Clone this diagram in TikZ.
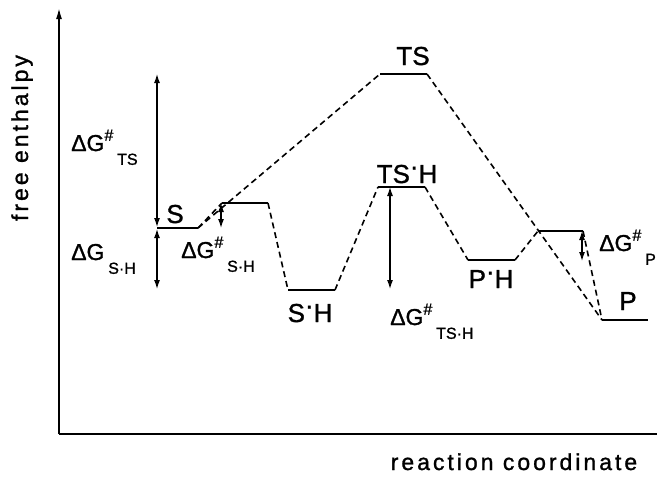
\documentclass[tikz,border=0pt]{standalone}
\usepackage{fontspec}
\setmainfont[FakeBold=1.2]{Liberation Sans}
\newfontfamily\axisfont[LetterSpace=13,FakeBold=1.2]{Liberation Sans}
\usetikzlibrary{arrows.meta}
\tikzset{
  axis/.style={line width=1.6pt},
  yaxis/.style={-{Latex[length=11pt,width=6pt]}, line width=1.6pt},
  level/.style={line width=1.6pt},
  link/.style={dash pattern=on 6pt off 4pt, line width=1.6pt},
  gap/.style={{Latex[length=9pt,width=6pt]}-{Latex[length=9pt,width=6pt]}, line width=1.2pt},
  state/.style={anchor=base, inner sep=0pt, font=\fontsize{26}{26}\selectfont},
  energy/.style={anchor=base west, inner sep=0pt},
  axislabel/.style={anchor=base, inner sep=0pt, font=\axisfont\fontsize{23}{23}\selectfont}
}
\newcommand{\dgtext}[2]{\fontsize{23}{23}\selectfont ΔG\raisebox{0.45em}{\fontsize{16}{16}\selectfont #1}\,\raisebox{-0.6em}{\fontsize{16}{16}\selectfont #2}}
\newcommand{\hdot}{\raisebox{0.3em}{·}}

\begin{document}
\begin{tikzpicture}[x=1pt, y=-1pt]
\useasboundingbox (0,0) rectangle (660,480);
% axes
\coordinate (origin) at (59,434);
\coordinate (ytop) at (59,8);
\coordinate (xend) at (657,434);
\draw[yaxis] (origin) -- (ytop);
\draw[axis] (origin) -- (xend);
\node[axislabel, rotate=90] (ylab) at (28,138) {free enthalpy};
\node[axislabel] (xlab) at (514,470) {reaction coordinate};

% levels
\coordinate (s1) at (157,228);  \coordinate (s2) at (198,228);
\coordinate (b1) at (222,203);  \coordinate (b2) at (268,203);
\coordinate (sh1) at (288,290); \coordinate (sh2) at (335,290);
\coordinate (tsh1) at (378,187);\coordinate (tsh2) at (425,187);
\coordinate (ph1) at (468,260); \coordinate (ph2) at (515,260);
\coordinate (c1) at (538,231);  \coordinate (c2) at (583,231);
\coordinate (p1) at (602,320);  \coordinate (p2) at (648,320);
\coordinate (ts1) at (380,74);  \coordinate (ts2) at (427,74);
\foreach \a/\b in {s1/s2, b1/b2, sh1/sh2, tsh1/tsh2, ph1/ph2, c1/c2, p1/p2, ts1/ts2}
  \draw[level] (\a) -- (\b);

% uncatalysed and catalysed paths
\foreach \a/\b in {s2/b1, b2/sh1, sh2/tsh1, tsh2/ph1, ph2/c1, c2/p1, s2/ts1, ts2/p1}
  \draw[link] (\a) -- (\b);

% state labels
\node[state] (lts) at (413,65) {TS};
\node[state] (ls) at (175,223) {S};
\node[state] (lsh) at (310,322) {S\hdot H};
\node[state] (ltsh) at (407,183) {TS\hdot H};
\node[state] (lph) at (491,288) {P\hdot H};
\node[state] (lp) at (628,310) {P};

% energy differences
\draw[gap] (157,74) -- (157,227);
\draw[gap] (157,229) -- (157,289);
\draw[gap] (221,203) -- (221,228);
\draw[gap] (390,187) -- (390,289);
\draw[gap] (582,231) -- (582,261);
\node[energy] (dgts) at (71,151) {\dgtext{\#}{TS}};
\node[energy] (dgsh) at (71,260) {\dgtext{}{S·H}};
\node[energy] (dgssh) at (181,258) {\dgtext{\#}{S·H}};
\node[energy] (dgtsh) at (390,325) {\dgtext{\#}{TS·H}};
\node[energy] (dgp) at (599,251) {\dgtext{\#}{P}};
\end{tikzpicture}
\end{document}
